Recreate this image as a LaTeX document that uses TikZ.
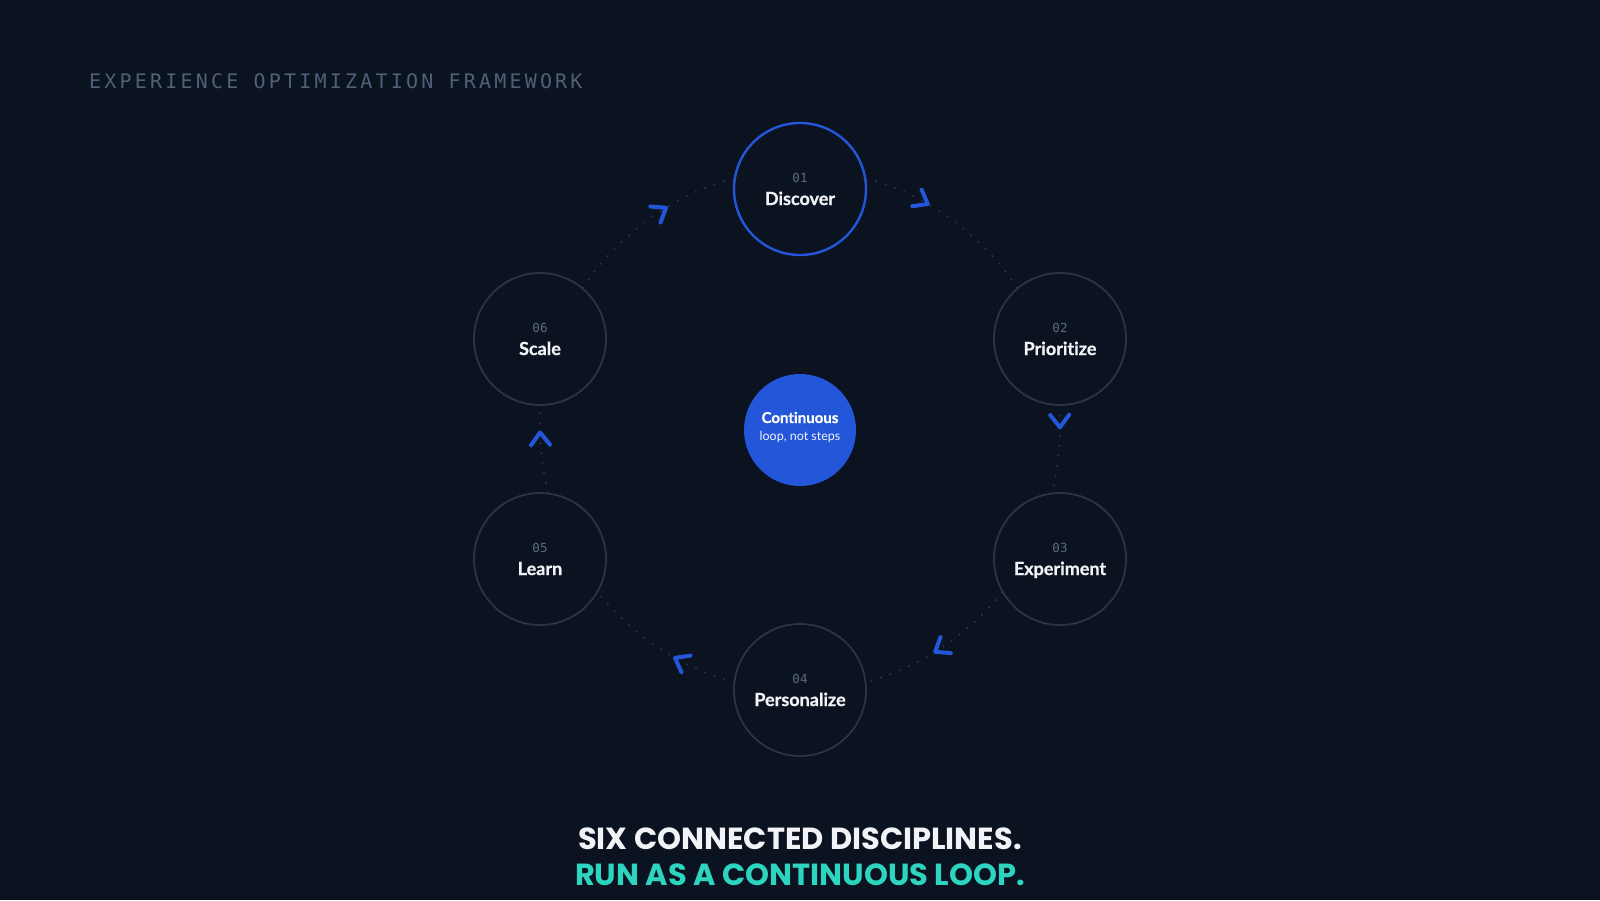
\documentclass[tikz,border=0pt]{standalone}
\usepackage{fontspec}
\setmainfont{Poppins}
\newfontfamily\labelfont{Lato}[Ligatures=NoCommon,BoldFeatures={FakeBold=0.8}]
\newfontfamily\monofont{DejaVu Sans Mono}
\newfontfamily\spacedmono{DejaVu Sans Mono}[LetterSpace=16]
\usetikzlibrary{decorations.markings}

\definecolor{bgcol}{HTML}{0B1220}
\definecolor{ringcol}{HTML}{2C3342}
\definecolor{dotcol}{HTML}{2E3749}
\definecolor{accent}{HTML}{2356D8}
\definecolor{numcol}{HTML}{5B6B85}
\definecolor{headcol}{HTML}{525F78}
\definecolor{titlecol}{HTML}{F1F3F7}
\definecolor{tealcol}{HTML}{2DD4BF}

% two centred lines, baselines #2 apart, first baseline #1 below the top
\newcommand{\twolines}[4]{\vbox{\offinterlineskip\kern#1pt
  \hbox to 0pt{\hss\smash{#3}\hss}\kern#2pt
  \hbox to 0pt{\hss\smash{#4}\hss}}}
\newcommand{\steptext}[2]{\twolines{9}{23}%
  {\monofont\fontsize{12.5}{14}\selectfont\color{numcol}#1}%
  {\labelfont\bfseries\fontsize{18}{20}\selectfont\color{titlecol}#2}}

\begin{document}
\begin{tikzpicture}[x=1pt,y=1pt]
  \tikzstyle{every node}=[inner sep=0pt]
  \tikzstyle{ring}=[circle,draw=ringcol,line width=1.8pt,minimum size=132pt]
  \tikzstyle{ringon}=[ring,draw=accent,line width=2.4pt]
  \tikzstyle{hub}=[circle,fill=accent,minimum size=112pt]
  \tikzstyle{chevron}=[solid,draw=accent,line width=4pt,line cap=round,line join=round]
  \tikzset{loopflow/.style={draw=dotcol,line width=2.2pt,line cap=round,
      dash pattern=on 0pt off 10pt,looseness=0.85,
      postaction={decorate,decoration={markings,mark=at position #1 with
        {\draw[chevron] (-8.5,9.5) -- (4,0) -- (-8.5,-9.5);}}}}}
  \fill[bgcol] (0,0) rectangle (1600,-900);
  \node [anchor=base west,text=headcol] (head) at (89,-88)
    {\spacedmono\fontsize{20}{23}\selectfont EXPERIENCE OPTIMIZATION FRAMEWORK};
  % the six steps
  \node [ringon] (disc) at (800,-189) {\steptext{01}{Discover}};
  \node [ring] (prio) at (1060,-339) {\steptext{02}{Prioritize}};
  \node [ring] (expe) at (1060,-559) {\steptext{03}{Experiment}};
  \node [ring] (pers) at (800,-690) {\steptext{04}{Personalize}};
  \node [ring] (lear) at (540,-559) {\steptext{05}{Learn}};
  \node [ring] (scal) at (540,-339) {\steptext{06}{Scale}};
  \node [hub] (hub) at (800,-430) {\twolines{3}{17}%
    {\labelfont\bfseries\fontsize{15}{17}\selectfont\color{white}Continuous}%
    {\labelfont\fontsize{12.5}{14}\selectfont\color{titlecol}loop, not steps}};
  % the loop
  \draw [loopflow=0.33] (disc.9) to[out=-14.5,in=123] (prio.130);
  \draw [loopflow=0.2] (prio.-91) to[out=-84.5,in=75.7] (expe.97);
  \draw [loopflow=0.52] (expe.210) to[out=-128.5,in=14.6] (pers.7);
  \draw [loopflow=0.36] (pers.173) to[out=165.4,in=-51.5] (lear.-30);
  \draw [loopflow=0.65] (lear.83) to[out=104.3,in=-95.5] (scal.-89);
  \draw [loopflow=0.59] (scal.50) to[out=56.9,in=194.5] (disc.171);
  \node [anchor=base,text=titlecol] (tag1) at (800,-849)
    {\fontsize{30.5}{32}\selectfont\bfseries SIX CONNECTED DISCIPLINES.};
  \node [anchor=base,text=tealcol] (tag2) at (800,-885)
    {\fontsize{30.5}{32}\selectfont\bfseries RUN AS A CONTINUOUS LOOP.};
\end{tikzpicture}
\end{document}
